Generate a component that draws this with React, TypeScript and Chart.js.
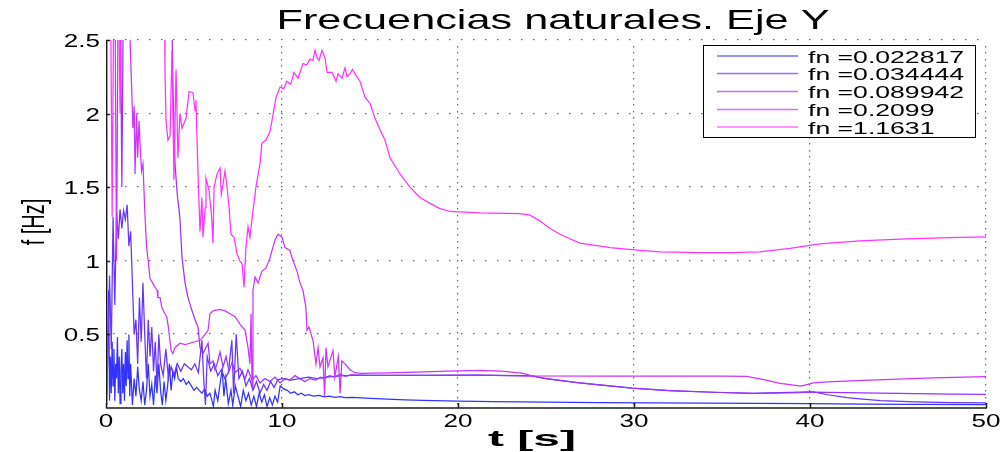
import { useEffect, useRef } from "react";
import { Chart, registerables } from "chart.js";

Chart.register(...registerables);

const TITLE = "Frecuencias naturales. Eje Y";
const X_LABEL = "t [s]";
const Y_LABEL = "f [Hz]";
const X_TICKS = [0, 10, 20, 30, 40, 50];
const X_TICK_LABELS = ["0", "10", "20", "30", "40", "50"];
const Y_TICKS = [0.5, 1, 1.5, 2, 2.5];
const Y_TICK_LABELS = ["0.5", "1", "1.5", "2", "2.5"];
const SERIES_LABELS = ["fn =0.022817", "fn =0.034444", "fn =0.089942", "fn =0.2099", "fn =1.1631"];
const SERIES_COLORS = ["#3333ff", "#6633ff", "#9933ff", "#cc33ff", "#ff33ff"];

// [t (s), f (Hz)]
const S1: number[][] = [
  [0, 0.4], [0.05, 0.02], [0.1, 0.5], [0.15, 0.8], [0.2, 0.05], [0.25, 0.35], [0.3, 0.1], [0.35, 0.45],
  [0.4, 0.15], [0.45, 0.4], [0.5, 0.05], [0.55, 0.3], [0.6, 0.2], [0.65, 0.48], [0.7, 0.1], [0.75, 0.35],
  [0.8, 0.03], [0.85, 0.25], [0.9, 0.4], [0.95, 0.1], [1.0, 0.3], [1.05, 0.05], [1.1, 0.38], [1.15, 0.15],
  [1.2, 0.46], [1.25, 0.2], [1.3, 0.5], [1.35, 0.08], [1.4, 0.3], [1.5, 0.02], [1.6, 0.2], [1.7, 0.08],
  [1.8, 0.28], [1.9, 0.12], [2.0, 0.05], [2.1, 0.18], [2.2, 0.02], [2.3, 0.12], [2.4, 0.3], [2.5, 0.08],
  [2.6, 0.16], [2.7, 0.02], [2.8, 0.22], [2.9, 0.1], [3.0, 0.3], [3.1, 0.12], [3.2, 0.02], [3.3, 0.18],
  [3.4, 0.05], [3.5, 0.15], [3.6, 0.3], [3.7, 0.12], [3.8, 0.25], [3.9, 0.2], [4.0, 0.28], [4.1, 0.2],
  [4.25, 0.18], [4.4, 0.2], [4.55, 0.16], [4.7, 0.18], [4.85, 0.15], [5.0, 0.12], [5.15, 0.14], [5.3, 0.12],
  [5.45, 0.1], [5.6, 0.13], [5.75, 0.08], [5.9, 0.1], [6.0, 0.06], [6.1, 0.01], [6.2, 0.12], [6.35, 0.05],
  [6.5, 0.18], [6.6, 0.26], [6.7, 0.08], [6.8, 0.2], [6.95, 0.03], [7.1, 0.12], [7.2, 0.02], [7.35, 0.15],
  [7.5, 0.08], [7.65, 0.01], [7.8, 0.12], [7.95, 0.05], [8.1, 0.1], [8.25, 0.02], [8.4, 0.08], [8.55, 0.01],
  [8.7, 0.1], [8.85, 0.04], [9.0, 0.09], [9.15, 0.01], [9.3, 0.07], [9.45, 0.02], [9.6, 0.08], [9.75, 0.04],
  [9.9, 0.15], [10.1, 0.13], [10.3, 0.12], [10.5, 0.1], [10.7, 0.11], [10.9, 0.09], [11.1, 0.1], [11.3, 0.085],
  [11.5, 0.09], [11.8, 0.08], [12.1, 0.085], [12.4, 0.075], [12.7, 0.08], [13.0, 0.072], [13.3, 0.078],
  [13.6, 0.07], [14, 0.072], [15, 0.065], [16, 0.06], [17, 0.056], [18, 0.052], [20, 0.047], [22, 0.044],
  [25, 0.04], [28, 0.037], [31, 0.035], [34, 0.033], [37, 0.031], [40, 0.029], [43, 0.027], [46, 0.025],
  [50, 0.023],
];

const S2: number[][] = [
  [0, 0.05], [0.1, 0.3], [0.2, 0.9], [0.3, 0.4], [0.4, 1.3], [0.5, 0.7], [0.6, 1.33], [0.7, 1.15],
  [0.8, 1.35], [0.9, 1.22], [1.0, 1.34], [1.1, 1.28], [1.2, 1.38], [1.3, 1.1], [1.4, 1.2], [1.5, 0.85],
  [1.6, 0.5], [1.7, 0.6], [1.8, 0.3], [1.9, 0.75], [2.0, 0.45], [2.1, 0.85], [2.2, 0.5], [2.3, 0.2],
  [2.4, 0.6], [2.5, 0.35], [2.6, 0.55], [2.7, 0.25], [2.8, 0.45], [2.9, 0.15], [3.0, 0.5], [3.1, 0.3],
  [3.25, 0.22], [3.4, 0.4], [3.55, 0.2], [3.7, 0.28], [3.85, 0.22], [4.05, 0.3], [4.25, 0.25], [4.45, 0.3],
  [4.65, 0.28], [4.85, 0.26], [5.05, 0.3], [5.25, 0.24], [5.45, 0.46], [5.55, 0.2], [5.65, 0.02], [5.75, 0.35],
  [5.95, 0.25], [6.15, 0.3], [6.35, 0.22], [6.55, 0.26], [6.75, 0.2], [6.95, 0.24], [7.15, 0.46], [7.25, 0.1],
  [7.4, 0.5], [7.55, 0.2], [7.75, 0.25], [7.95, 0.15], [8.15, 0.2], [8.35, 0.12], [8.55, 0.18], [8.75, 0.1],
  [8.95, 0.16], [9.15, 0.12], [9.35, 0.18], [9.55, 0.14], [9.75, 0.19], [10.0, 0.2], [10.5, 0.19], [11, 0.2],
  [11.5, 0.21], [12, 0.2], [12.5, 0.21], [13, 0.215], [13.5, 0.22], [14, 0.222], [15, 0.221], [18, 0.221],
  [21, 0.223], [24.2, 0.218], [25, 0.2], [26.9, 0.17], [29.9, 0.135], [32, 0.118], [34.5, 0.107], [36.8, 0.1],
  [39.4, 0.107], [40.2, 0.11], [41, 0.09], [42.1, 0.07], [43, 0.06], [44, 0.05], [46, 0.042], [48, 0.037],
  [50, 0.034],
];

const S3: number[][] = [
  [0, 0.1], [0.05, 3], [0.8, 3], [0.9, 1.5], [1.0, 3], [3.7, 3], [3.8, 2.2], [3.92, 1.66], [4.05, 1.45],
  [4.2, 1.29], [4.32, 1.02], [4.49, 0.85], [4.66, 0.75], [4.89, 0.66], [5.06, 0.6], [5.23, 0.55], [5.34, 0.41],
  [5.51, 0.37], [5.8, 0.44], [5.91, 0.3], [6.08, 0.32], [6.19, 0.26], [6.31, 0.3], [6.48, 0.38], [6.65, 0.28],
  [6.82, 0.35], [6.99, 0.25], [7.16, 0.31], [7.33, 0.24], [7.61, 0.27], [7.9, 0.2], [8.07, 0.26], [8.3, 0.19],
  [8.52, 0.22], [8.75, 0.17], [9.03, 0.2], [9.32, 0.18], [9.6, 0.21], [9.89, 0.17], [10.17, 0.2], [10.45, 0.19],
  [10.74, 0.22], [11.0, 0.2], [11.3, 0.18], [11.6, 0.2], [11.9, 0.19], [12.2, 0.21], [12.4, 0.2], [12.7, 0.22],
  [13.0, 0.21], [13.3, 0.23], [13.6, 0.215], [13.9, 0.225], [15, 0.222], [18, 0.222], [21, 0.224], [24.2, 0.219],
  [25, 0.2], [26.9, 0.17], [29.9, 0.135], [32, 0.118], [34.5, 0.107], [36.8, 0.1], [39.4, 0.105], [40, 0.108],
  [42, 0.104], [45, 0.099], [48, 0.095], [50, 0.093],
];

const S4: number[][] = [
  [0, 0.6], [0.04, 3], [0.5, 3], [0.6, 1.0], [0.7, 3], [1.3, 3], [1.38, 2.45], [1.45, 2.2], [1.53, 1.9],
  [1.6, 2.05], [1.65, 1.59], [1.74, 2.0], [1.8, 1.7], [1.88, 1.95], [1.95, 1.75], [2.02, 1.61], [2.1, 1.66],
  [2.2, 1.35], [2.3, 1.1], [2.4, 1.0], [2.5, 0.88], [2.65, 0.85], [2.78, 0.82], [2.9, 0.8], [2.95, 0.75],
  [3.07, 0.75], [3.18, 0.68], [3.35, 0.64], [3.45, 0.62], [3.52, 0.57], [3.64, 0.45], [3.7, 0.39], [3.8, 0.37],
  [3.92, 0.41], [4.2, 0.44], [4.49, 0.43], [4.77, 0.44], [5.06, 0.45], [5.34, 0.46], [5.63, 0.5], [5.8, 0.53],
  [5.91, 0.64], [6.08, 0.66], [6.48, 0.67], [6.76, 0.66], [7.05, 0.64], [7.33, 0.62], [7.61, 0.57], [7.9, 0.53],
  [8.07, 0.41], [8.18, 0.3], [8.24, 0.64], [8.3, 0.14], [8.35, 0.8], [8.47, 0.89], [8.64, 0.85], [8.86, 0.93],
  [9.09, 0.95], [9.32, 1.02], [9.43, 1.07], [9.6, 1.14], [9.77, 1.18], [10.0, 1.16], [10.17, 1.09], [10.45, 1.07],
  [10.63, 1.0], [10.85, 0.93], [11.02, 0.85], [11.19, 0.8], [11.36, 0.68], [11.42, 0.53], [11.53, 0.55],
  [11.76, 0.46], [11.93, 0.3], [12.05, 0.41], [12.16, 0.28], [12.33, 0.34], [12.42, 0.08], [12.5, 0.41],
  [12.61, 0.28], [12.9, 0.39], [13.0, 0.21], [13.2, 0.35], [13.3, 0.1], [13.4, 0.32], [13.58, 0.3],
  [13.86, 0.26], [14.15, 0.24], [14.5, 0.235],
  [16, 0.238], [18, 0.245], [20, 0.252], [21.25, 0.256], [22.5, 0.25], [23.7, 0.235], [24.2, 0.219],
  [28, 0.217], [32, 0.217], [35, 0.216], [36.4, 0.214], [37.5, 0.19], [38.3, 0.168], [39.5, 0.148],
  [40.2, 0.17], [41, 0.178], [43, 0.188], [45, 0.197], [47, 0.205], [50, 0.213],
];

const S5: number[][] = [
  [0, 0.05], [0.03, 3], [0.25, 3], [0.35, 1.3], [0.45, 3], [0.7, 3], [0.8, 2.0], [0.9, 3], [3.3, 3],
  [3.35, 2.3], [3.41, 1.95], [3.52, 1.82], [3.64, 1.85], [3.75, 2.43], [3.86, 1.55], [3.98, 2.3], [4.09, 1.7],
  [4.2, 2.0], [4.32, 1.9], [4.55, 1.97], [4.72, 2.15], [4.94, 2.14], [5.06, 2.02], [5.11, 2.09], [5.23, 1.59],
  [5.34, 1.2], [5.45, 1.43], [5.51, 1.16], [5.63, 1.36], [5.68, 1.56], [5.85, 1.48], [6.0, 1.3], [6.08, 1.12],
  [6.14, 1.5], [6.31, 1.59], [6.48, 1.63], [6.55, 1.45], [6.65, 1.52], [6.76, 1.61], [6.88, 1.5], [7.0, 1.35],
  [7.1, 1.18], [7.27, 1.16], [7.44, 1.05], [7.6, 1.0], [7.73, 0.98], [7.84, 0.82], [7.95, 1.09], [8.07, 1.23],
  [8.18, 1.16], [8.3, 1.29], [8.52, 1.5], [8.75, 1.66], [8.86, 1.8], [9.09, 1.82], [9.32, 1.88], [9.5, 2.0],
  [9.66, 2.11], [9.89, 2.18], [10.1, 2.17], [10.28, 2.22], [10.5, 2.2], [10.68, 2.28], [10.91, 2.24],
  [11.19, 2.34], [11.4, 2.33], [11.59, 2.37], [11.75, 2.36], [11.88, 2.43], [11.99, 2.38], [12.1, 2.36],
  [12.27, 2.43], [12.44, 2.38], [12.56, 2.28], [12.84, 2.28], [13.0, 2.24], [13.07, 2.22], [13.18, 2.27],
  [13.41, 2.24], [13.58, 2.31], [13.7, 2.25], [13.86, 2.27], [14.0, 2.3], [14.15, 2.27], [14.43, 2.22],
  [14.72, 2.11], [15.0, 2.07], [15.28, 1.97], [15.57, 1.89], [15.85, 1.82], [16.14, 1.7], [16.7, 1.59],
  [17.27, 1.5], [17.84, 1.43], [18.41, 1.39], [18.98, 1.355], [19.55, 1.335], [21.25, 1.325], [23.52, 1.32],
  [24.09, 1.31], [24.66, 1.27], [25.23, 1.22], [25.8, 1.18], [26.36, 1.15], [26.93, 1.12], [28.64, 1.09],
  [30.34, 1.07], [31.48, 1.06], [33.75, 1.055], [35.5, 1.055], [37.16, 1.06], [38.86, 1.085], [40.57, 1.115],
  [42.84, 1.135], [45.11, 1.148], [47.95, 1.157], [50, 1.163],
];

const SERIES = [S1, S2, S3, S4, S5];

const FONT = '"Liberation Sans", Arial, Helvetica, sans-serif';

function drawText(
  ctx: CanvasRenderingContext2D,
  text: string,
  x: number,
  y: number,
  font: string,
  sx: number,
  align: CanvasTextAlign
) {
  ctx.save();
  ctx.font = font;
  ctx.textAlign = align;
  ctx.textBaseline = "alphabetic";
  ctx.translate(x, y);
  ctx.scale(sx, 1);
  ctx.fillText(text, 0, 0);
  ctx.restore();
}

function fitText(
  ctx: CanvasRenderingContext2D,
  text: string,
  x: number,
  y: number,
  font: string,
  width: number,
  align: CanvasTextAlign
) {
  ctx.save();
  ctx.font = font;
  const w = ctx.measureText(text).width;
  ctx.restore();
  drawText(ctx, text, x, y, font, width / w, align);
}

const decorPlugin = {
  id: "decor",
  beforeDatasetsDraw(chart: any) {
    const { ctx, chartArea: a, scales } = chart;
    const xs = scales.x;
    const ys = scales.y;
    ctx.save();
    ctx.fillStyle = "#666666";
    for (const v of Y_TICKS) {
      const y = Math.round(ys.getPixelForValue(v));
      for (let x = a.left + 8; x <= a.right + 0.5; x += 12) {
        ctx.fillRect(Math.round(x) - 1, y - 1, 1.5, 1.2);
      }
    }
    for (const v of X_TICKS) {
      if (v === 0) continue;
      const x = Math.round(xs.getPixelForValue(v));
      for (let y = a.bottom - 5; y >= a.top - 0.5; y -= 6.5) {
        ctx.fillRect(x - 1, Math.round(y), 1.2, 1.5);
      }
    }
    ctx.restore();
  },
  afterDatasetsDraw(chart: any) {
    const { ctx, chartArea: a, scales } = chart;
    const xs = scales.x;
    const ys = scales.y;
    ctx.save();
    // axes
    ctx.strokeStyle = "#1a1a1a";
    ctx.lineWidth = 1.5;
    ctx.beginPath();
    ctx.moveTo(a.left, a.bottom);
    ctx.lineTo(a.right + 1, a.bottom);
    ctx.stroke();
    ctx.lineWidth = 1;
    ctx.beginPath();
    ctx.moveTo(a.left + 0.5, a.top);
    ctx.lineTo(a.left + 0.5, a.bottom);
    ctx.stroke();
    // tick marks
    ctx.lineWidth = 1.5;
    for (const v of X_TICKS) {
      const x = Math.round(xs.getPixelForValue(v)) + 0.5;
      ctx.beginPath();
      ctx.moveTo(x, a.bottom);
      ctx.lineTo(x, a.bottom - 5);
      ctx.stroke();
    }
    for (const v of Y_TICKS) {
      const y = Math.round(ys.getPixelForValue(v)) + 0.5;
      ctx.beginPath();
      ctx.moveTo(a.left, y);
      ctx.lineTo(a.left + 4, y);
      ctx.stroke();
    }
    // tick labels
    ctx.fillStyle = "#000000";
    const tickFont = `19px ${FONT}`;
    X_TICKS.forEach((v, i) => {
      drawText(ctx, X_TICK_LABELS[i], xs.getPixelForValue(v), 427, tickFont, 1.37, "center");
    });
    Y_TICKS.forEach((v, i) => {
      drawText(ctx, Y_TICK_LABELS[i], a.left - 6, ys.getPixelForValue(v) + 7, tickFont, 1.37, "right");
    });
    // axis titles
    fitText(ctx, X_LABEL, 532, 446, `bold 22px ${FONT}`, 88, "center");
    ctx.save();
    ctx.translate(35, 222);
    ctx.rotate(-Math.PI / 2);
    ctx.scale(1, 1.55);
    ctx.font = `20px ${FONT}`;
    ctx.textAlign = "center";
    ctx.textBaseline = "middle";
    ctx.fillText(Y_LABEL, 0, 0);
    ctx.restore();
    // title
    fitText(ctx, TITLE, 553, 29, `28px ${FONT}`, 553, "center");
    // legend
    const lx = 703;
    const ly = 45;
    const lw = 272;
    const lh = 92;
    ctx.fillStyle = "#ffffff";
    ctx.fillRect(lx, ly, lw, lh);
    ctx.strokeStyle = "#000000";
    ctx.lineWidth = 1;
    ctx.strokeRect(lx + 0.5, ly + 0.5, lw, lh);
    const rowY = [56, 73.5, 91.5, 109.5, 127];
    const legendFont = `16.5px ${FONT}`;
    ctx.font = legendFont;
    const sx = 156 / ctx.measureText(SERIES_LABELS[0]).width;
    SERIES_LABELS.forEach((lab, i) => {
      ctx.save();
      ctx.globalAlpha = 0.7;
      ctx.strokeStyle = SERIES_COLORS[i];
      ctx.lineWidth = 1.3;
      ctx.beginPath();
      ctx.moveTo(717, rowY[i]);
      ctx.lineTo(798, rowY[i]);
      ctx.stroke();
      ctx.restore();
      ctx.fillStyle = "#000000";
      drawText(ctx, lab, 808, rowY[i] + 6.5, legendFont, sx, "left");
    });
    ctx.restore();
  },
};

export default function App() {
  const canvasRef = useRef<HTMLCanvasElement | null>(null);

  useEffect(() => {
    const canvas = canvasRef.current;
    if (!canvas) return;
    const chart = new Chart(canvas, {
      type: "line",
      data: {
        datasets: SERIES.map((s, i) => ({
          label: SERIES_LABELS[i],
          data: s.map((p) => ({ x: p[0], y: p[1] })),
          borderColor: SERIES_COLORS[i],
          backgroundColor: SERIES_COLORS[i],
          borderWidth: 1.25,
          pointRadius: 0,
          tension: 0,
          fill: false,
          order: 5 - i,
        })),
      },
      options: {
        responsive: false,
        maintainAspectRatio: false,
        devicePixelRatio: 1,
        animation: false,
        events: [],
        layout: { padding: { left: 0, right: 20, top: 40, bottom: 0 } },
        plugins: {
          legend: { display: false },
          title: { display: false },
          tooltip: { enabled: false },
        },
        scales: {
          x: {
            type: "linear",
            min: 0,
            max: 50,
            ticks: { display: false, stepSize: 10 },
            grid: { display: false },
            border: { display: false },
            afterFit: (scale: any) => {
              scale.height = 44;
            },
          },
          y: {
            type: "linear",
            min: 0,
            max: 2.5,
            ticks: { display: false, stepSize: 0.5 },
            grid: { display: false },
            border: { display: false },
            afterFit: (scale: any) => {
              scale.width = 106;
            },
          },
        },
      },
      plugins: [decorPlugin],
    } as any);
    return () => chart.destroy();
  }, []);

  return (
    <div style={{ position: "fixed", left: 0, top: 0, width: 1006, height: 452, background: "#ffffff" }}>
      <canvas ref={canvasRef} width={1006} height={452} style={{ display: "block" }} />
    </div>
  );
}
